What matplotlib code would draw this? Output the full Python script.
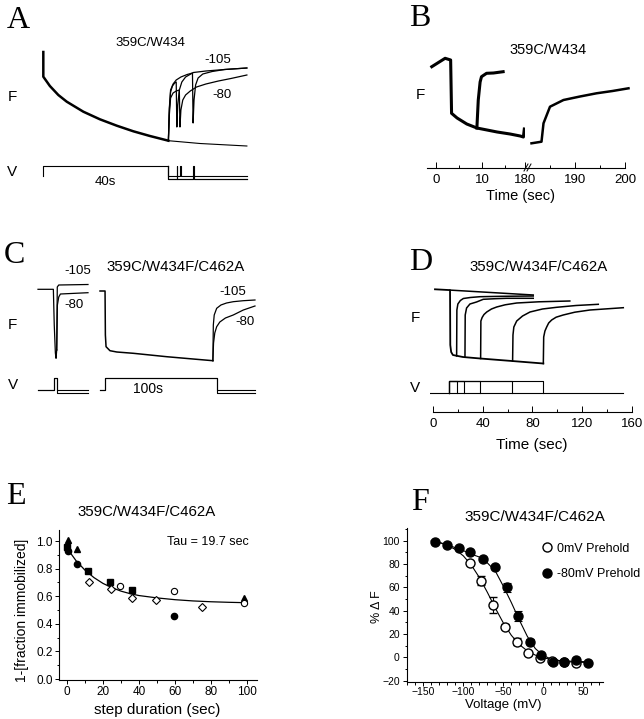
import matplotlib
matplotlib.use("Agg")
import matplotlib.pyplot as plt
from matplotlib.lines import Line2D
from matplotlib.ticker import MultipleLocator, FormatStrFormatter

plt.rcParams['font.family'] = ['Liberation Sans', 'DejaVu Sans']

# ---------------- A : 359C/W434, 40 s step then recovery (F in a.u., t in s)
a_decay_t = [0, 0, 2.1, 4.8, 7.5, 12.8, 18.1, 23.5, 28.8, 34.1, 40.0]
a_decay_f = [98, 73.3, 64, 55, 48.3, 38.3, 30.7, 24.3, 18.7, 14, 9.3]
a_base_t = [40.0, 50.1, 65.1]
a_base_f = [9.3, 6.5, 4]
a_sweeps_t = [
    [40.0, 40.3, 40.7, 41.3, 42.0, 42.5, 42.7, 43.0, 43.5, 44.3, 45.5, 48, 52, 58, 65.1],
    [40.0, 40.3, 40.7, 41.5, 42.5, 43.5, 43.7, 44.0, 44.6, 45.5, 47, 49, 52, 56, 60, 65.1],
    [40.0, 40.3, 40.7, 41.5, 42.5, 44, 46, 47.7, 47.9, 48.2, 48.7, 49.5, 51, 54, 58, 65.1],
]
a_sweeps_f = [
    [9.3, 40, 58, 64, 67, 68, 23, 45, 60, 68, 73, 77.5, 79, 80.5, 82],
    [9.3, 35, 52, 57, 59, 60, 23, 40, 50, 55, 59, 63, 66, 69, 71.5, 75],
    [9.3, 42, 60, 66, 70, 73, 75.5, 77, 27, 50, 65, 72, 76, 78.5, 80.5, 82],
]
a_step_t = [0, 0, 40]
a_step_v = [-80, 0, 0]
a_pulse_t = [42.6, 43.7, 47.9]
a_return_v = [-105, -80, -105]

# ---------------- B : 359C/W434, broken time axis
b_low_t = [-0.9, 2.0, 3.2, 3.4, 4.6, 6.7, 8.9, 11.1, 13.3, 16.1, 18.3, 19.0, 19.2]
b_low_f = [83.3, 91.7, 90, 36.7, 32, 26, 22, 20, 18, 16, 14, 13, 21]
b_rec_t = [8.9, 9.2, 9.6, 9.9, 11.0, 12.5, 14.6]
b_rec_f = [22, 50, 68, 73.3, 76.7, 77, 78.3]
b_late_t = [181.3, 183.3, 183.7, 185, 187.7, 191, 194.3, 197.5, 200.7]
b_late_f = [6.7, 8.3, 26.7, 43.3, 50, 53.5, 56.7, 59, 61.7]

# ---------------- C : 359C/W434F/C462A, short pulse and 100 s step
c_short_t = [0, 13.7, 14.5, 15.5, 16.1, 16.7]
c_short_f = [75.7, 75.7, 40, 12, 6.7, 15]
c_short_105_t = [16.7, 17.2, 18.5, 44.6]
c_short_105_f = [15, 78, 80, 80.5]
c_short_80_t = [16.7, 17.3, 18.5, 20, 44.6]
c_short_80_f = [15, 60, 68, 71, 72.3]
c_long_t = [0, 4.5, 4.8, 5.4, 8.9, 15, 29.8, 59.5, 80, 100.8]
c_long_f = [74, 74, 30, 18.3, 14.3, 13, 11.7, 8.3, 6.3, 4.3]
c_long_105_t = [100.8, 101.2, 102, 104.2, 108, 113, 119, 128, 138.4]
c_long_105_f = [4.3, 40, 50, 56.7, 60, 62, 63.3, 64.3, 65]
c_long_80_t = [100.8, 101.4, 102.5, 104.2, 107, 112, 119, 128, 138.4]
c_long_80_f = [4.3, 22, 32, 38.3, 43, 47, 50, 55, 59]
c_short_v_t = [0, 14.6, 14.6, 17.2, 17.2, 44.4]
c_long_v_t = [0, 4.8, 4.8, 104.2, 104.2, 138.4]
c_levels = [-105, -80]

# ---------------- D : 359C/W434F/C462A, steps of increasing duration
d_main_t = [1.6, 13.7, 13.9, 14.6, 16, 24, 38, 63.5, 88.7]
d_main_f = [75.7, 74.9, 20, 13, 10, 8, 6.5, 4, 1.5]
d_top_t = [13.7, 80.6]
d_top_f = [74.9, 70]
d_rec_t = [
    [19, 19.2, 20, 22, 24.4, 30, 37.8, 55, 80.6],
    [25.7, 25.9, 27, 29.7, 35, 40.4, 50, 59.2, 80.6],
    [38.3, 38.5, 39.5, 41, 43.2, 47, 51.2, 58, 67.3, 85, 110],
    [64, 64.3, 65, 67.3, 72, 78, 88, 99.4, 115, 132.9],
    [88.7, 89, 90, 91.4, 93, 95.4, 99, 104.7, 114, 126.2, 153],
]
d_rec_f = [
    [9, 55, 61, 64.5, 66.5, 67.5, 68.3, 68.7, 69],
    [7.8, 50, 57, 61, 63, 65.7, 66.3, 66.7, 66.7],
    [6.5, 44, 47.5, 50.5, 53, 56, 58, 60.2, 62, 63.2, 64],
    [4, 30, 38, 44, 49, 53, 56, 57.7, 59.5, 60.7],
    [1.5, 28, 34, 38, 42, 45, 47.8, 50, 52.8, 55, 57.3],
]
d_step_on = 12.5
d_step_off = [19, 24.9, 37.8, 63.2, 88.7]
d_hold_t = [-2.4, 152.7]

# ---------------- E : recovery vs step duration
e_tri_x = [0.7, 5.4, 98.3]
e_tri_y = [1.01, 0.94, 0.59]
e_sq_x = [0.2, 11.9, 23.9, 35.9]
e_sq_y = [0.96, 0.78, 0.70, 0.645]
e_dot_x = [0.7, 5.4, 59.4]
e_dot_y = [0.93, 0.83, 0.46]
e_ring_x = [29.4, 59.4, 98.3]
e_ring_y = [0.675, 0.64, 0.55]
e_dia_x = [12.4, 24.3, 36.3, 49.4, 74.8]
e_dia_y = [0.705, 0.65, 0.585, 0.57, 0.52]
e_fit_x = [0, 5, 10, 15, 20, 25, 30, 35, 40, 50, 60, 70, 80, 90, 100]
e_fit_y = [0.948, 0.858, 0.789, 0.735, 0.693, 0.662, 0.637, 0.619, 0.605,
           0.588, 0.575, 0.566, 0.560, 0.556, 0.553]

# ---------------- F : % dF vs voltage
f_open_v = [-92, -78, -62.5, -48, -33, -19.5, -4, 10.5, 26, 40.5]
f_open_y = [81.1, 65.7, 44.9, 26.2, 13.4, 3.4, -0.9, -3.2, -3.8, -5.1]
f_open_err = [1, 4, 7, 2, 3, 1, 1, 1, 1, 1]
f_fill_v = [-136, -121, -106, -92, -76, -61, -46, -32, -17, -3, 12, 26, 41, 56]
f_fill_y = [99.2, 96.3, 93.5, 90.6, 84, 77.7, 60, 35.4, 13.4, 2, -3.8, -4.3, -2.3, -4.6]
f_fill_err = [1, 1, 1, 1, 1, 1, 4, 4, 2, 1, 1, 1, 1, 1]
f_fit_v = [-140, -130, -120, -110, -100, -90, -80, -70, -60, -50, -40, -30, -20,
           -10, 0, 10, 20, 30, 40, 50, 60]
f_fit_open = [99.8, 98.4, 96.1, 92.5, 87.0, 79.1, 68.5, 55.8, 42.2, 29.5, 18.9,
              11.0, 5.5, 1.9, -0.4, -1.8, -2.7, -3.2, -3.5, -3.7, -3.8]
f_fit_fill = [100, 98.5, 96.5, 94, 91.5, 88.5, 86, 81, 74, 61, 47, 32, 18,
              7.5, 1.5, -1.5, -3, -3.8, -4.1, -4.3, -4.4]
f_legend = ['0mV Prehold', '-80mV Prehold']

W, H = 644, 719
fig = plt.figure(figsize=(W / 100, H / 100), dpi=100)


def box(x0, y0, x1, y1):
    return fig.add_axes([x0 / W, 1 - y1 / H, (x1 - x0) / W, (y1 - y0) / H])


def trace_axes(x0, y0, x1, y1, xlim, ylim):
    ax = box(x0, y0, x1, y1)
    ax.set_xlim(*xlim)
    ax.set_ylim(*ylim)
    ax.axis('off')
    return ax


def txt(x, y, s, size=10, **kw):
    kw.setdefault('ha', 'center')
    kw.setdefault('va', 'center')
    fig.text(x / W, 1 - y / H, s, fontsize=size, **kw)


def letter(x, y, s):
    txt(x, y, s, 23, family=['Liberation Serif', 'DejaVu Serif'])


K = 'black'

# ---- A
axA = trace_axes(40, 45, 250, 150, (-1.06, 66.1), (0, 105))
axA.plot(a_decay_t, a_decay_f, color=K, lw=1.8)
axA.plot(a_base_t, a_base_f, color=K, lw=0.8)
for t, f in zip(a_sweeps_t, a_sweeps_f):
    axA.plot(t, f, color=K, lw=0.9)
axAv = trace_axes(40, 160, 250, 185, (-1.06, 66.1), (-152, 48))
axAv.plot(a_step_t, a_step_v, color=K, lw=0.8)
for p, lv in zip(a_pulse_t, a_return_v):
    axAv.plot([40, 40, p, p, p + 0.3, p + 0.3, 65.1],
              [0, lv, lv, 0, 0, lv, lv], color=K, lw=0.8)
letter(18, 20, 'A')
txt(150, 43, '359C/W434', 9.5)
txt(218, 60, '-105', 9.5)
txt(222, 95, '-80', 9.5)
txt(12, 97, 'F', 11)
txt(12, 172, 'V', 11)
txt(105, 182, '40s', 9.5)

# ---- B (broken time axis)
axB1 = box(426.7, 50, 525, 168)
axB2 = box(525, 50, 630, 168)
axB1.set_xlim(-2.0, 19.35)
axB2.set_xlim(180, 201)
for ax in (axB1, axB2):
    ax.set_ylim(-18, 100)
    for s in ('left', 'right', 'top'):
        ax.spines[s].set_visible(False)
    ax.spines['bottom'].set_linewidth(0.8)
    ax.set_yticks([])
    ax.patch.set_alpha(0)
    ax.xaxis.set_major_locator(MultipleLocator(10))
    ax.xaxis.set_minor_locator(MultipleLocator(5))
    ax.tick_params(axis='x', which='both', direction='in', labelsize=9.5, pad=4, width=0.7)
    ax.tick_params(axis='x', which='major', length=4)
    ax.tick_params(axis='x', which='minor', length=2.5)
axB1.set_xticks([0, 10])
axB2.spines['bottom'].set_bounds(180, 200.1)
axB1.plot(b_low_t, b_low_f, color=K, lw=2.2)
axB1.plot(b_rec_t, b_rec_f, color=K, lw=2.2)
axB2.plot(b_late_t, b_late_f, color=K, lw=1.8)
for dx in (0, 3):
    fig.add_artist(Line2D([(524 + dx) / W, (528 + dx) / W],
                          [1 - 171 / H, 1 - 164 / H], color=K, lw=0.7))
letter(420, 18, 'B')
txt(548, 50, '359C/W434', 10.5)
txt(420, 95, 'F', 11)
txt(520, 196, 'Time (sec)', 10.5)

# ---- C
axC1 = trace_axes(36, 278, 90, 366, (-1.79, 46.4), (-1, 87))
axC2 = trace_axes(98, 278, 258, 366, (-1.79, 141.1), (-1, 87))
axC1.plot(c_short_t, c_short_f, color=K, lw=0.9)
axC1.plot(c_short_105_t, c_short_105_f, color=K, lw=0.9)
axC1.plot(c_short_80_t, c_short_80_f, color=K, lw=0.9)
axC2.plot(c_long_t, c_long_f, color=K, lw=1.1)
axC2.plot(c_long_105_t, c_long_105_f, color=K, lw=0.9)
axC2.plot(c_long_80_t, c_long_80_f, color=K, lw=0.9)
axC1v = trace_axes(36, 372, 90, 398, (-1.79, 46.4), (-139.3, 46.4))
axC2v = trace_axes(98, 372, 258, 398, (-1.79, 141.1), (-139.3, 46.4))
for lv in c_levels:
    axC1v.plot(c_short_v_t, [-80, -80, 0, 0, lv, lv], color=K, lw=0.8)
    axC2v.plot(c_long_v_t, [-80, -80, 0, 0, lv, lv], color=K, lw=0.8)
letter(14, 256, 'C')
txt(176, 267, '359C/W434F/C462A', 10.8)
txt(78, 271, '-105', 9.5)
txt(74, 305, '-80', 9.5)
txt(233, 292, '-105', 9.5)
txt(245, 322, '-80', 9.5)
txt(12, 325, 'F', 11)
txt(13, 385, 'V', 11)
txt(148, 389, '100s', 10)

# ---- D
axD = trace_axes(430, 280, 632, 366, (-2.41, 160), (-1, 85))
axD.plot(d_main_t, d_main_f, color=K, lw=1.3)
axD.plot(d_top_t, d_top_f, color=K, lw=1.1)
for t, f in zip(d_rec_t, d_rec_f):
    axD.plot(t, f, color=K, lw=1.1)
axDv = box(430, 372, 632, 412)
axDv.set_xlim(-2.41, 160)
axDv.set_ylim(-201.3, 58.4)
axDv.patch.set_alpha(0)
for s in ('left', 'right', 'top'):
    axDv.spines[s].set_visible(False)
axDv.spines['bottom'].set_bounds(0, 160)
axDv.spines['bottom'].set_linewidth(0.8)
axDv.set_yticks([])
axDv.xaxis.set_major_locator(MultipleLocator(40))
axDv.xaxis.set_minor_locator(MultipleLocator(20))
axDv.tick_params(axis='x', which='both', direction='in', labelsize=9.5, pad=4, width=0.7)
axDv.tick_params(axis='x', which='major', length=4)
axDv.tick_params(axis='x', which='minor', length=2.5)
axDv.plot(d_hold_t, [-80, -80], color=K, lw=0.8)
for off in d_step_off:
    axDv.plot([d_step_on, d_step_on, off, off], [-80, 0, 0, -80], color=K, lw=0.8)
letter(421, 262, 'D')
txt(539, 267, '359C/W434F/C462A', 10.8)
txt(415, 318, 'F', 11)
txt(415, 388, 'V', 11)
txt(532, 445, 'Time (sec)', 11)

# ---- E
axE = box(59, 530, 257, 680)
axE.set_xlim(-4.44, 105.6)
axE.set_ylim(-0.007, 1.08)
for s in ('right', 'top'):
    axE.spines[s].set_visible(False)
for s in ('left', 'bottom'):
    axE.spines[s].set_linewidth(0.8)
axE.plot(e_fit_x, e_fit_y, color=K, lw=0.9)
ms = 4.5
axE.plot(e_tri_x, e_tri_y, '^', color=K, ms=ms)
axE.plot(e_sq_x, e_sq_y, 's', color=K, ms=ms - 0.5)
axE.plot(e_dot_x, e_dot_y, 'o', color=K, ms=ms)
axE.plot(e_ring_x, e_ring_y, 'o', mfc='white', mec=K, mew=0.8, ms=ms)
axE.plot(e_dia_x, e_dia_y, 'D', mfc='white', mec=K, mew=0.8, ms=ms - 0.8)
axE.xaxis.set_major_locator(MultipleLocator(20))
axE.xaxis.set_minor_locator(MultipleLocator(10))
axE.yaxis.set_major_locator(MultipleLocator(0.2))
axE.yaxis.set_minor_locator(MultipleLocator(0.1))
axE.yaxis.set_major_formatter(FormatStrFormatter('%.1f'))
axE.tick_params(which='both', labelsize=8.5, pad=1.5, width=0.7)
axE.tick_params(which='major', length=3)
axE.tick_params(which='minor', length=1.8)
letter(16, 496, 'E')
txt(147, 512, '359C/W434F/C462A', 10.8)
txt(208, 542, 'Tau = 19.7 sec', 9)
txt(22, 610, '1-[fraction immobilized]', 10, rotation=90)
txt(157, 710, 'step duration (sec)', 11)

# ---- F
axF = box(406.7, 528, 603.3, 681.7)
axF.set_xlim(-170.8, 75)
axF.set_ylim(-20.9, 110.9)
for s in ('right', 'top'):
    axF.spines[s].set_visible(False)
for s in ('left', 'bottom'):
    axF.spines[s].set_linewidth(0.8)
axF.plot(f_fit_v, f_fit_open, color=K, lw=0.8)
axF.plot(f_fit_v, f_fit_fill, color=K, lw=0.8)
axF.errorbar(f_open_v, f_open_y, yerr=f_open_err, fmt='o', mfc='white', mec=K,
             mew=1.0, ms=6.5, ecolor=K, elinewidth=0.8, capsize=3, capthick=0.8,
             label=f_legend[0])
axF.errorbar(f_fill_v, f_fill_y, yerr=f_fill_err, fmt='o', color=K, ms=6.5,
             ecolor=K, elinewidth=0.8, capsize=3, capthick=0.8, label=f_legend[1])
axF.xaxis.set_major_locator(MultipleLocator(50))
axF.xaxis.set_minor_locator(MultipleLocator(10))
axF.yaxis.set_major_locator(MultipleLocator(20))
axF.yaxis.set_minor_locator(MultipleLocator(10))
axF.tick_params(which='both', labelsize=7.5, width=0.7)
axF.tick_params(axis='x', pad=1)
axF.tick_params(axis='y', pad=2)
axF.tick_params(which='major', length=3)
axF.tick_params(which='minor', length=1.8)
h, l = axF.get_legend_handles_labels()
axF.legend([x[0] for x in h], l, loc='upper left', bbox_to_anchor=(0.687, 0.905),
           frameon=False, fontsize=9, handlelength=0.8, handletextpad=0.4,
           borderpad=0, borderaxespad=0, labelspacing=1.1, numpoints=1)
letter(420, 502, 'F')
txt(535, 517, '359C/W434F/C462A', 11)
txt(376.7, 606.7, '% \u0394 F', 9, rotation=90)
txt(503.3, 705, 'Voltage (mV)', 9.5)

fig.savefig('out.png', dpi=100)
